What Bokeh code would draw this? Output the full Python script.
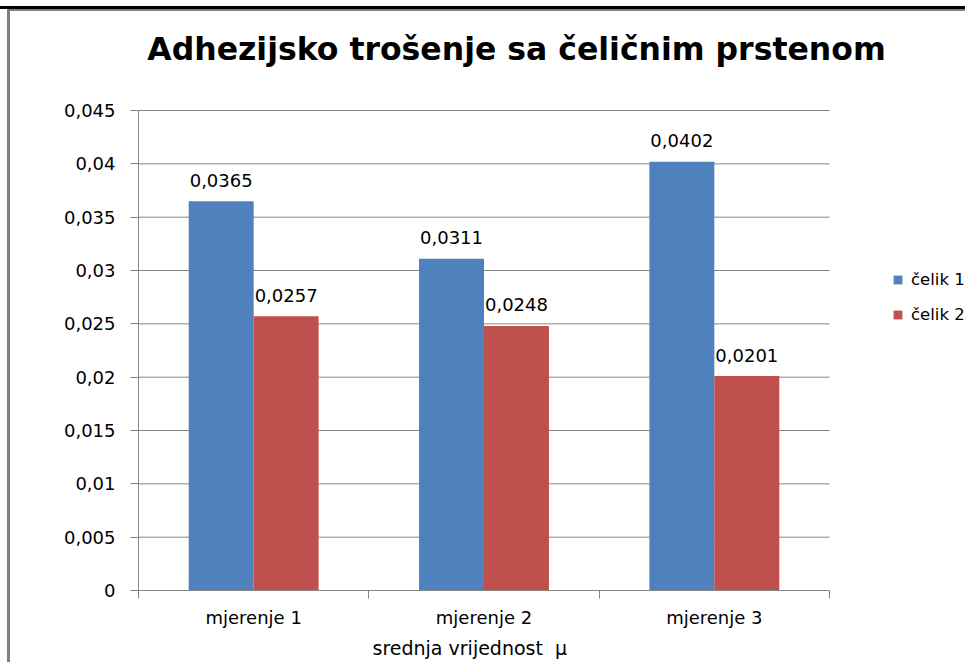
from bokeh.plotting import figure
from bokeh.models import Range1d, FixedTicker, Legend, LegendItem, Label, Title
from bokeh.core.properties import value
from bokeh.embed import file_html
from bokeh.resources import INLINE

# ---- data ----
categories = ["mjerenje 1", "mjerenje 2", "mjerenje 3"]
series_names = ["čelik 1", "čelik 2"]
celik1 = [0.0365, 0.0311, 0.0402]
celik2 = [0.0257, 0.0248, 0.0201]
y_ticks = [0, 0.005, 0.01, 0.015, 0.02, 0.025, 0.03, 0.035, 0.04, 0.045]
y_tick_labels = ["0", "0,005", "0,01", "0,015", "0,02", "0,025", "0,03", "0,035", "0,04", "0,045"]
title_text = "Adhezijsko trošenje sa čeličnim prstenom"
x_title = "srednja vrijednost  μ"

colors = ["#4F81BD", "#C0504D"]
FONT = "DejaVu Sans"
GRAY = "#868686"
W, H = 965, 662

# axes occupy x 138..829 px and y 110..590 px; the frame is extended to the
# right and top edges so that the legend and the title (drawn in it) are not clipped
FRAME_L, AXIS_R, AXIS_T, FRAME_B = 138, 829, 110, 590
ncat = len(categories)
y_max = y_ticks[-1]
x_end = ncat * (W - FRAME_L) / (AXIS_R - FRAME_L)
y_end = y_max * FRAME_B / (FRAME_B - AXIS_T)
px_per_x = (AXIS_R - FRAME_L) / ncat
px_per_y = (FRAME_B - AXIS_T) / y_max

p = figure(width=W, height=H, output_backend="svg", toolbar_location=None,
           x_range=Range1d(0, x_end), y_range=Range1d(0, y_end),
           min_border_left=FRAME_L, min_border_right=0, min_border_top=0,
           min_border_bottom=H - FRAME_B)
p.outline_line_color = None
p.background_fill_color = None
p.border_fill_color = None
# chart-area border lines (black top rule, grey frame) painted as element background
p.styles = {
    "background-image": "linear-gradient(#000000, #000000), linear-gradient(#808080, #808080), linear-gradient(#808080, #808080)",
    "background-size": f"{W}px 3px, {W - 7}px 2px, 3px {H - 9}px",
    "background-position": "0px 6px, 7px 9px, 7px 9px",
    "background-repeat": "no-repeat, no-repeat, no-repeat",
}

# title (centre at x=516 px, cap middle at y=48 px)
p.add_layout(Label(x=(516 - FRAME_L) / px_per_x, y=(FRAME_B - 48) / px_per_y,
                   text=title_text, text_align="center", text_baseline="middle",
                   text_font=FONT, text_font_style="bold", text_font_size="31.5px",
                   text_color="#000000"))

# horizontal grid lines limited to the category axis extent
p.xgrid.visible = False
p.ygrid.visible = False
p.segment(x0=[0] * len(y_ticks), x1=[ncat] * len(y_ticks), y0=y_ticks, y1=y_ticks,
          line_color=GRAY, line_width=1)

bar_w = 0.282
series = [celik1, celik2]
renderers = []
for s, vals in enumerate(series):
    xs = [i + 0.5 + (s - 0.5) * bar_w for i in range(ncat)]
    r = p.vbar(x=xs, top=vals, width=bar_w, fill_color=colors[s], line_color=None)
    renderers.append(r)
    p.text(x=xs, y=vals, text=[f"{v:.4f}".replace(".", ",") for v in vals],
           text_align="center", text_baseline="middle", y_offset=-21,
           text_font=value(FONT), text_font_size="18px", text_color="#000000")

# axes
yax = p.yaxis[0]
yax.bounds = (0, y_max)
yax.ticker = FixedTicker(ticks=y_ticks)
yax.major_label_overrides = {t: l for t, l in zip(y_ticks, y_tick_labels)}
yax.axis_line_color = GRAY
yax.major_tick_line_color = GRAY
yax.major_tick_out = 8
yax.major_tick_in = 0
yax.minor_tick_line_color = None
yax.major_label_standoff = 15
yax.major_label_text_font = FONT
yax.major_label_text_font_size = "18px"
yax.major_label_text_color = "#000000"

xax = p.xaxis[0]
xax.bounds = (0, ncat)
xax.ticker = FixedTicker(ticks=[i + 0.5 for i in range(ncat)],
                         minor_ticks=list(range(ncat + 1)))
xax.major_label_overrides = {i + 0.5: c for i, c in enumerate(categories)}
xax.axis_line_color = GRAY
xax.major_tick_line_color = None
xax.major_tick_out = 0
xax.major_tick_in = 0
xax.minor_tick_line_color = GRAY
xax.minor_tick_out = 8
xax.minor_tick_in = 0
xax.major_label_standoff = 8
xax.major_label_text_font = FONT
xax.major_label_text_font_size = "18px"
xax.major_label_text_color = "#000000"

# x-axis title, left-aligned at x=372 px (double space kept with no-break spaces)
p.add_layout(Title(text=x_title.replace("  ", "\u00a0\u00a0"), align="left",
                   offset=372 - FRAME_L, standoff=8,
                   text_font=FONT, text_font_style="normal", text_font_size="19px",
                   text_color="#000000"), "below")

# legend inside the (extended) frame, to the right of the axes
legend = Legend(items=[LegendItem(label=n, renderers=[r]) for n, r in zip(series_names, renderers)],
                location=(754, 266), orientation="vertical")
legend.border_line_color = None
legend.background_fill_alpha = 0
legend.padding = 0
legend.margin = 0
legend.spacing = 16
legend.glyph_width = 11
legend.glyph_height = 11
legend.label_height = 11
legend.label_standoff = 8
legend.label_text_font = FONT
legend.label_text_font_size = "16.5px"
legend.label_text_color = "#000000"
p.add_layout(legend)

open("out.html", "w").write(file_html(p, INLINE))
